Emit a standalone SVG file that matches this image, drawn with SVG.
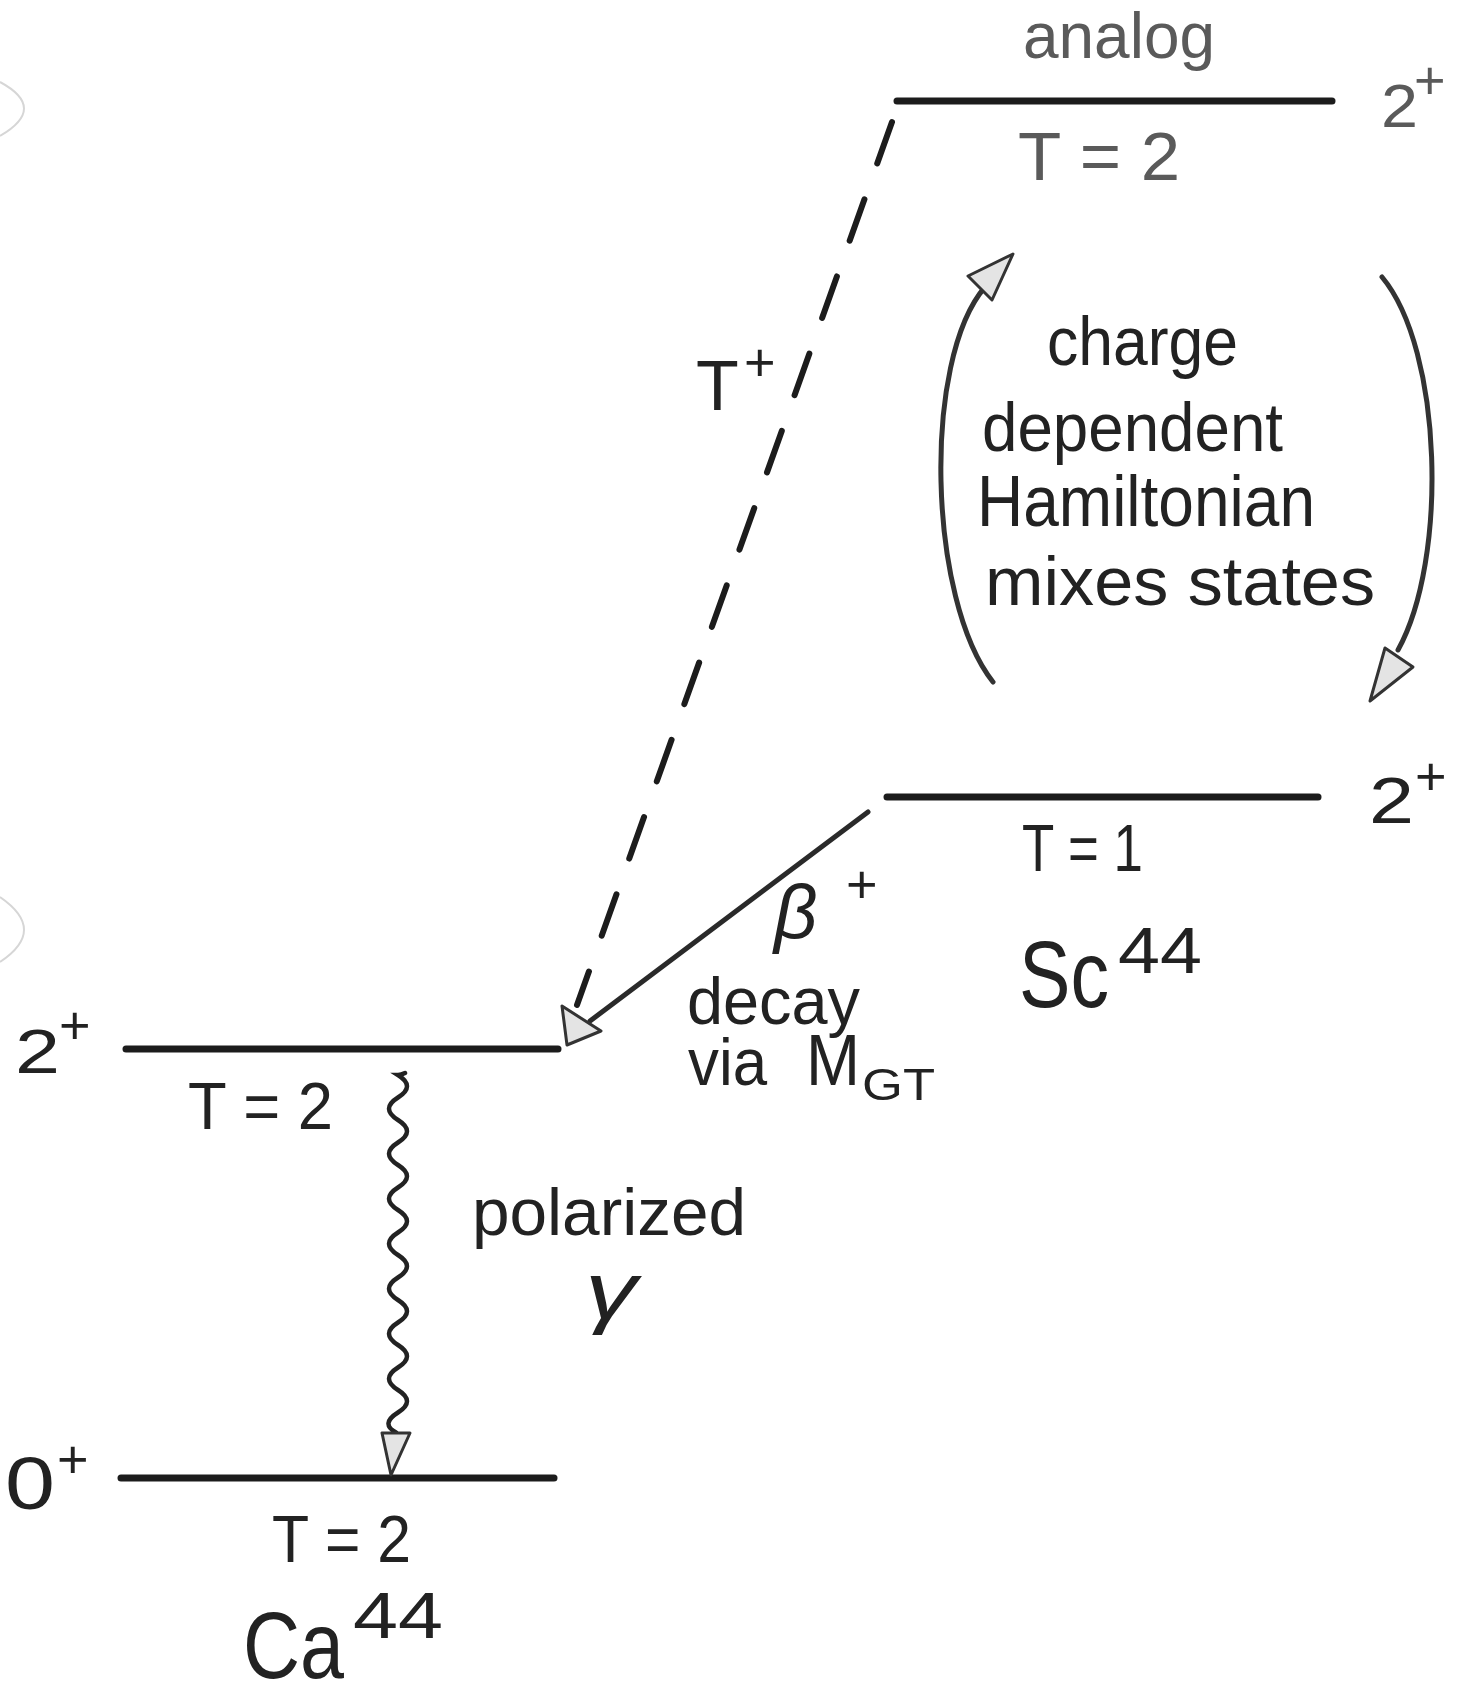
<svg xmlns="http://www.w3.org/2000/svg" width="1471" height="1695" viewBox="0 0 1471 1695">
<style>
text{font-family:"Liberation Sans",Arial,sans-serif;fill:#222}
.faded{fill:#5a5a5a}
.lvl{stroke:#1c1c1c;stroke-width:7;stroke-linecap:round;fill:none}
.sup{font-size:54px}
.dash{stroke:#1c1c1c;stroke-width:6;stroke-linecap:round;fill:none;stroke-dasharray:44 38}
.beta{stroke:#2a2a2a;stroke-width:5;stroke-linecap:round;fill:none}
.wave{stroke:#222;stroke-width:4.5;fill:none;stroke-linecap:round}
.arc{stroke:#333;stroke-width:5;fill:none;stroke-linecap:round}
.head{fill:#e4e4e4;stroke:#333;stroke-width:3;stroke-linejoin:round}
.hole{stroke:#d6d6d6;stroke-width:2;fill:none}
</style>
<rect width="1471" height="1695" fill="#ffffff"/>
<path class="hole" d="M0,82 Q48,108 0,136"/>
<path class="hole" d="M0,897 Q48,930 0,962"/>

<g id="analog-level">
<line class="lvl" x1="897" y1="101" x2="1332" y2="101"/>
<text class="faded" x="1023" y="58" font-size="64" textLength="192" lengthAdjust="spacingAndGlyphs">analog</text>
<text class="faded" x="1018" y="180" font-size="68" textLength="162" lengthAdjust="spacingAndGlyphs">T = 2</text>
<text class="faded" x="1381" y="127" font-size="62" textLength="37" lengthAdjust="spacingAndGlyphs">2</text>
<text class="faded sup" x="1414" y="99">+</text>
</g>

<g id="sc-level">
<line class="lvl" x1="887" y1="797" x2="1318" y2="797"/>
<text x="1022" y="871" font-size="66" textLength="121" lengthAdjust="spacingAndGlyphs">T = 1</text>
<text x="1369" y="823" font-size="64" textLength="45" lengthAdjust="spacingAndGlyphs">2</text>
<text class="sup" x="1415" y="795">+</text>
<text x="1019" y="1007" font-size="94" textLength="90" lengthAdjust="spacingAndGlyphs">Sc</text>
<text x="1118" y="973" font-size="64" textLength="84" lengthAdjust="spacingAndGlyphs">44</text>
</g>

<g id="ca-2plus-level">
<line class="lvl" x1="126" y1="1049" x2="558" y2="1049"/>
<text x="188" y="1129" font-size="66" textLength="145" lengthAdjust="spacingAndGlyphs">T = 2</text>
<text x="15" y="1073" font-size="63" textLength="45" lengthAdjust="spacingAndGlyphs">2</text>
<text class="sup" x="59" y="1044">+</text>
</g>

<g id="ca-0plus-level">
<line class="lvl" x1="121" y1="1478" x2="554" y2="1478"/>
<text x="272" y="1562" font-size="66" textLength="139" lengthAdjust="spacingAndGlyphs">T = 2</text>
<text x="5" y="1509" font-size="75" textLength="50" lengthAdjust="spacingAndGlyphs">0</text>
<text class="sup" x="57" y="1478">+</text>
<text x="243" y="1678" font-size="94" textLength="101" lengthAdjust="spacingAndGlyphs">Ca</text>
<text x="353" y="1638" font-size="64" textLength="90" lengthAdjust="spacingAndGlyphs">44</text>
</g>

<g id="mixing-label">
<text x="1047" y="365" font-size="68" textLength="191" lengthAdjust="spacingAndGlyphs">charge</text>
<text x="982" y="451" font-size="68" textLength="301" lengthAdjust="spacingAndGlyphs">dependent</text>
<text x="977" y="526" font-size="72" textLength="338" lengthAdjust="spacingAndGlyphs">Hamiltonian</text>
<text x="985" y="605" font-size="68" textLength="390" lengthAdjust="spacingAndGlyphs">mixes  states</text>
</g>

<g id="tplus-label">
<text x="696" y="410" font-size="70">T</text>
<text class="sup" x="744" y="381">+</text>
</g>

<g id="beta-label">
<text x="774" y="938" font-size="76" font-style="italic">β</text>
<text class="sup" x="846" y="903">+</text>
<text x="687" y="1024" font-size="66" textLength="173" lengthAdjust="spacingAndGlyphs">decay</text>
<text x="688" y="1085" font-size="66" textLength="79" lengthAdjust="spacingAndGlyphs">via</text>
<text x="806" y="1085" font-size="72" textLength="54" lengthAdjust="spacingAndGlyphs">M</text>
<text x="862" y="1100" font-size="45" textLength="73" lengthAdjust="spacingAndGlyphs">GT</text>
</g>

<g id="gamma-label">
<text x="472" y="1235" font-size="66" textLength="274" lengthAdjust="spacingAndGlyphs">polarized</text>
<text x="585" y="1318" font-size="80" font-style="italic" textLength="52" lengthAdjust="spacingAndGlyphs">γ</text>
</g>

<g id="connectors">
<path class="dash" d="M892,122 L577,1005"/>
<path class="beta" d="M868,812 L590,1021"/>
<polygon class="head" points="562,1006 601,1031 567,1045"/>
<path class="wave" d="M405,1073 q-4,2 -7,2 q18,11.25 0,22.5 q-18,11.25 0,22.5 q18,11.25 0,22.5 q-18,11.25 0,22.5 q18,11.25 0,22.5 q-18,11.25 0,22.5 q18,11.25 0,22.5 q-18,11.25 0,22.5 q18,11.25 0,22.5 q-18,11.25 0,22.5 q18,11.25 0,22.5 q-18,11.25 0,22.5 q18,11.25 0,22.5 q-18,11.25 0,22.5 q18,11.25 0,22.5 q-18,11.25 -2,20"/>
<polygon class="head" points="382,1433 410,1433 391,1475"/>
<path class="arc" d="M993,682 C928,600 922,360 985,287"/>
<polygon class="head" points="1013,254 968,276 992,300"/>
<path class="arc" d="M1382,277 C1443,350 1448,560 1398,650"/>
<polygon class="head" points="1370,701 1385,648 1413,667"/>
</g>
</svg>
